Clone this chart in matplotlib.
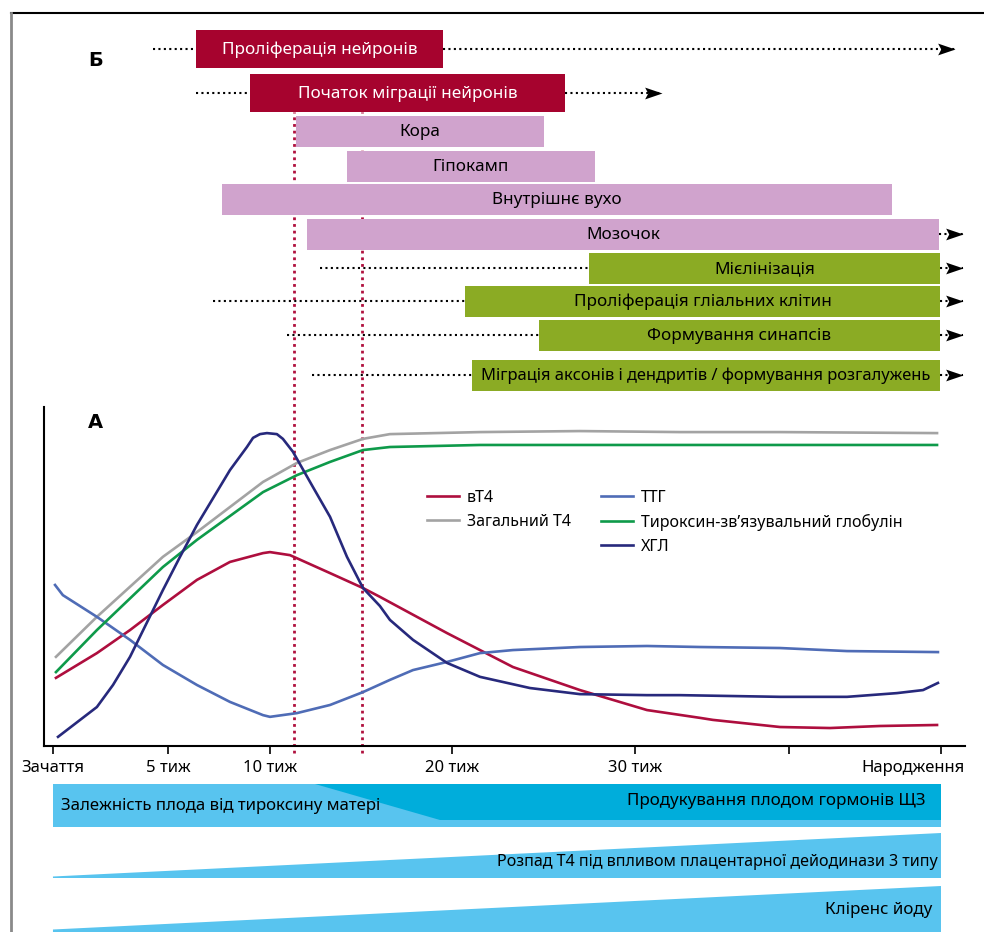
import numpy as np
import matplotlib
matplotlib.use("Agg")
import matplotlib.pyplot as plt
from matplotlib.lines import Line2D
from matplotlib.patches import Polygon, Rectangle
from matplotlib.transforms import ScaledTranslation

plt.rcParams['font.family'] = ['Noto Sans', 'DejaVu Sans']

# x axis: weeks of gestation, drawn on a schematic (non-linear) scale
tick_weeks = [0, 5, 10, 20, 30, 35, 40]
tick_labels = ['Зачаття', '5 тиж', '10 тиж', '20 тиж', '30 тиж', '', 'Народження']
tick_spacing = [0, 115, 217, 399, 582, 736, 888]

# --- panel A: hormone curves (weeks, arbitrary level 0-100) ---
ft4_w = [0.13, 1.91, 3.35, 4.78, 6.42, 8.04, 9.66, 10.0, 11.1, 13.3, 15.11, 16.04, 19.73, 23.33, 26.99, 30.39, 32.11, 32.53, 34.71, 36.35, 37.99, 39.87]
ft4_v = [20.1, 27.4, 34.2, 41.6, 49.0, 54.3, 56.9, 57.2, 56.3, 51.0, 46.6, 44.0, 33.3, 23.3, 16.5, 10.6, 8.3, 7.7, 5.6, 5.3, 5.9, 6.2]

tt4_w = [0.13, 1.91, 4.78, 6.42, 9.66, 11.48, 13.3, 15.11, 16.59, 21.53, 26.99, 31.46, 34.71, 39.87]
tt4_v = [26.3, 38.1, 55.8, 63.1, 77.9, 83.5, 87.3, 90.6, 92.0, 92.6, 92.9, 92.6, 92.6, 92.3]

tsh_w = [0.09, 0.43, 1.91, 3.35, 4.78, 6.42, 8.04, 9.66, 10.0, 11.48, 13.3, 15.11, 16.59, 17.86, 19.73, 21.53, 23.33, 26.99, 30.39, 32.11, 34.71, 36.91, 39.9]
tsh_v = [47.5, 44.5, 38.1, 31.3, 23.9, 18.0, 13.0, 9.1, 8.6, 9.7, 12.1, 15.9, 19.5, 22.4, 24.8, 27.4, 28.3, 29.2, 29.5, 29.2, 28.9, 28.0, 27.7]

tbg_w = [0.13, 1.91, 4.78, 6.42, 9.66, 11.48, 13.3, 15.11, 16.59, 21.53, 31.46, 39.87]
tbg_v = [21.8, 34.2, 52.8, 60.8, 74.9, 79.9, 83.8, 87.3, 88.2, 88.8, 88.8, 88.8]

hcg_w = [0.22, 1.91, 2.61, 3.35, 4.78, 5.59, 6.42, 8.04, 8.87, 9.17, 9.51, 9.85, 10.38, 10.71, 11.26, 12.36, 13.3, 14.23, 15.11, 16.04, 16.59, 17.86, 19.73, 21.53, 24.26, 26.99, 30.39, 31.46, 34.71, 36.91, 38.55, 39.41, 39.9]
hcg_v = [2.7, 11.5, 18.0, 26.3, 46.0, 55.8, 65.2, 81.4, 88.2, 90.9, 92.0, 92.3, 92.0, 90.6, 86.8, 76.4, 67.6, 55.8, 46.6, 41.3, 37.2, 31.3, 24.5, 20.4, 17.1, 15.3, 15.0, 15.0, 14.5, 14.5, 15.6, 16.5, 18.6]

series = [
    ('вТ4', ft4_w, ft4_v, '#AE0E3E'),
    ('Загальний Т4', tt4_w, tt4_v, '#A3A3A3'),
    ('ТТГ', tsh_w, tsh_v, '#4F6CB6'),
    ('Тироксин-зв\u2019язувальний глобулін', tbg_w, tbg_v, '#0E9A4A'),
    ('ХГЛ', hcg_w, hcg_v, '#27297C'),
]
marker_weeks = [11.3, 15.05]

# --- panel Б: developmental processes ---
proc_labels = ['Проліферація нейронів', 'Початок міграції нейронів', 'Кора', 'Гіпокамп',
               'Внутрішнє вухо', 'Мозочок', 'Мієлінізація', 'Проліферація гліальних клітин',
               'Формування синапсів', 'Міграція аксонів і дендритів / формування розгалужень']
proc_start = [6.37, 9.02, 11.43, 14.23, 7.65, 12.03, 27.49, 20.71, 24.75, 21.09]
proc_end = [19.51, 26.17, 25.03, 27.81, 38.39, 39.95, 39.97, 39.97, 39.97, 39.97]
proc_lead = [4.35, 6.37, None, None, None, None, 12.75, 7.21, 10.93, 12.31]
proc_arrow = [40.46, 30.88, None, None, None, 40.72, 40.72, 40.72, 40.72, 40.72]
proc_group = ['neuron', 'neuron', 'region', 'region', 'region', 'region', 'glia', 'glia', 'glia', 'glia']

# --- bottom bands ---
band_texts = ['Залежність плода від тироксину матері', 'Продукування плодом гормонів ЩЗ',
              'Розпад Т4 під впливом плацентарної дейодинази 3 типу', 'Кліренс йоду']
fetal_start = [12.47, 19.34]

wk = np.array(tick_weeks, float)
pos = np.array(tick_spacing, float)
s0 = (pos[1] - pos[0]) / (wk[1] - wk[0])
s1 = (pos[-1] - pos[-2]) / (wk[-1] - wk[-2])


def fwd(x):
    x = np.asarray(x, float)
    y = np.interp(x, wk, pos)
    y = np.where(x < wk[0], pos[0] + (x - wk[0]) * s0, y)
    y = np.where(x > wk[-1], pos[-1] + (x - wk[-1]) * s1, y)
    return y


def inv(y):
    y = np.asarray(y, float)
    x = np.interp(y, pos, wk)
    x = np.where(y < pos[0], wk[0] + (y - pos[0]) / s0, x)
    x = np.where(y > pos[-1], wk[-1] + (y - pos[-1]) / s1, x)
    return x


def mid(a, b):
    return float(inv((fwd(a) + fwd(b)) / 2))


W, H = 984, 932
fig = plt.figure(figsize=(W / 100, H / 100), dpi=100)
xlim = (-0.39, 40.79)
left, width = 44 / W, (965 - 44) / W

# frame
fig.add_artist(Line2D([11 / W, 1], [1 - 13 / H, 1 - 13 / H], color='black', lw=1.5, transform=fig.transFigure))
fig.add_artist(Line2D([11 / W, 11 / W], [0, 1 - 13 / H], color='#8a8a8a', lw=2, transform=fig.transFigure))

# ---------- line chart ----------
ax = fig.add_axes([left, (H - 746) / H, width, (746 - 407) / H])
ax.set_xscale('function', functions=(fwd, inv))
for name, xs, ys, col in series:
    ax.plot(xs, ys, color=col, lw=1.9, label=name)
ax.set_xlim(*xlim)
ax.set_ylim(0, 100)
ax.set_xticks(tick_weeks)
ax.set_xticklabels(tick_labels, fontsize=12)
ax.set_yticks([])
ax.tick_params(axis='x', direction='out', length=6, width=1.2, pad=4)
last = ax.get_xticklabels()[-1]
last.set_transform(last.get_transform() + ScaledTranslation(-28 / 100, 0, fig.dpi_scale_trans))
for s in ['top', 'right']:
    ax.spines[s].set_visible(False)
ax.spines['left'].set_linewidth(1.5)
ax.spines['bottom'].set_linewidth(1.5)
ax.text(0.056, 0.955, 'А', transform=ax.transAxes, fontsize=14, fontweight='heavy',
        family='DejaVu Sans', ha='center', va='center')

for mw in marker_weeks:
    ax.axvline(mw, ymin=-0.02, ymax=(746 - 112) / (746 - 407), color='#B0103E', lw=2,
               ls=(0, (1, 1.4)), clip_on=False, zorder=0)

handles, labels = ax.get_legend_handles_labels()
blank = Line2D([], [], alpha=0)
order = [handles[0], handles[1], blank, handles[2], handles[3], handles[4]]
names = [labels[0], labels[1], '', labels[2], labels[3], labels[4]]
ax.legend(order, names, ncol=2, loc='upper left', bbox_to_anchor=(0.40, 0.799), frameon=False,
          fontsize=11.5, handlelength=2.0, handletextpad=0.5, columnspacing=1.9, labelspacing=0.5)

# ---------- panel Б ----------
axg = fig.add_axes([left, 0, width, 1])
axg.set_xscale('function', functions=(fwd, inv))
axg.set_xlim(*xlim)
axg.set_ylim(H, 0)
axg.axis('off')
axg.patch.set_alpha(0)

row_y = [49, 93, 131, 166, 199, 234, 268, 301, 335, 375]
row_h = [38, 38, 31, 31, 31, 31, 31, 31, 31, 31]
colors = {'neuron': '#A6032E', 'region': '#D0A3CD', 'glia': '#8BAB24'}
txtcol = {'neuron': 'white', 'region': 'black', 'glia': 'black'}
head = [(0, 0), (-1, 0.34), (-0.82, 0), (-1, -0.34)]

for i, lab in enumerate(proc_labels):
    y, h, g = row_y[i], row_h[i], proc_group[i]
    a, b = proc_start[i], proc_end[i]
    if proc_lead[i] is not None:
        axg.plot([proc_lead[i], a], [y, y], color='black', lw=1.5, ls=(0, (1, 1.6)), zorder=1)
    if proc_arrow[i] is not None:
        axg.plot([b, proc_arrow[i]], [y, y], color='black', lw=1.5, ls=(0, (1, 1.6)), zorder=1)
        axg.plot([proc_arrow[i]], [y], marker=head, ms=25, color='black', mew=0, zorder=3, clip_on=False)
    axg.add_patch(Rectangle((a, y - h / 2), b - a, h, facecolor=colors[g], edgecolor='none', zorder=2))
    fs = 11.9 if len(lab) > 40 else 12.3
    axg.text(mid(a, b), y + 1, lab, ha='center', va='center', color=txtcol[g], fontsize=fs, zorder=4)

axg.text(-0.39 + 52 / 23, 60, 'Б', fontsize=14, fontweight='heavy', family='DejaVu Sans',
         ha='center', va='center')

# bottom bands
light, dark = '#58C4EF', '#00ADDB'
axg.add_patch(Rectangle((0, 784), 40, 43, facecolor=light, edgecolor='none'))
axg.add_patch(Polygon([(fetal_start[0], 784), (40, 784), (40, 820), (fetal_start[1], 820)],
                      closed=True, facecolor=dark, edgecolor='none'))
axg.text(0.35, 806, band_texts[0], ha='left', va='center', fontsize=12.1)
axg.text(39.5, 801, band_texts[1], ha='right', va='center', fontsize=12.2)
axg.add_patch(Polygon([(0, 876.5), (40, 833), (40, 878), (0, 878)], closed=True, facecolor=light, edgecolor='none'))
axg.text(39.9, 862, band_texts[2], ha='right', va='center', fontsize=11.6)
axg.add_patch(Polygon([(0, 929.5), (40, 886), (40, 932), (0, 932)], closed=True, facecolor=light, edgecolor='none'))
axg.text(39.7, 910, band_texts[3], ha='right', va='center', fontsize=12.2)

fig.savefig('out.png', dpi=100)
